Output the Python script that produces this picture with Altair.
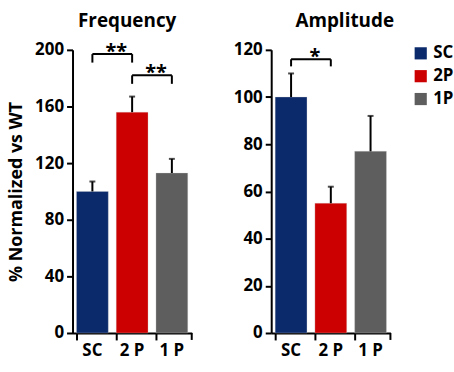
import altair as alt
import pandas as pd

groups = ["SC", "2 P", "1 P"]
legend_labels = ["SC", "2P", "1P"]
colors = ["#0b2a6b", "#cc0000", "#5e5e5e"]

freq_mean = [100, 156, 113]
freq_err = [107, 167, 123]
amp_mean = [100, 55, 77]
amp_err = [110, 62, 92]

# significance brackets
freq_br_start = ["SC", "2 P"]
freq_br_end = ["2 P", "1 P"]
freq_br_top = [197, 182]
freq_br_leg = [191, 176]
freq_br_mid = ["2 P", "1 P"]
freq_br_text = ["**", "**"]

amp_br_start = ["SC"]
amp_br_end = ["2 P"]
amp_br_top = [116]
amp_br_leg = [113]
amp_br_mid = ["2 P"]
amp_br_text = ["*"]

FONT = "Open Sans"
W, H = 120, 285


def panel(mean, err, br_start, br_end, br_top, br_leg, br_mid, br_text,
          title, ymax, ystep, ytitle, title_dx, show_legend):
    df = pd.DataFrame({"g": groups, "lg": legend_labels, "v": mean, "e": err})
    br = pd.DataFrame({"s": br_start, "t": br_end, "top": br_top,
                       "leg": br_leg, "m": br_mid, "txt": br_text})

    xscale = alt.Scale(domain=groups, paddingInner=0.2, paddingOuter=0.1)
    yscale = alt.Scale(domain=[0, ymax], nice=False)

    yaxis = alt.Axis(
        values=list(range(0, ymax + 1, ystep)), grid=False,
        domainColor="black", domainWidth=2, tickColor="black", tickWidth=2,
        tickSize=6, labelFont=FONT, labelFontSize=17, labelFontWeight="bold",
        labelColor="black", labelPadding=3, minExtent=40, maxExtent=40,
        title=ytitle if ytitle else None,
        titleFont=FONT, titleFontSize=18, titleFontWeight="bold",
        titleColor="black", titlePadding=7,
    )
    xaxis = alt.Axis(
        title=None, labelAngle=0, bandPosition=0, domainColor="black",
        domainWidth=2, tickColor="black", tickWidth=2, tickSize=7,
        labelFont=FONT, labelFontSize=17, labelFontWeight="bold",
        labelColor="black", labelPadding=3,
    )

    color = alt.Color(
        "lg:N",
        scale=alt.Scale(domain=legend_labels, range=colors),
        legend=alt.Legend(
            title=None, symbolType="square", symbolSize=150,
            symbolStrokeWidth=0, labelFont=FONT, labelFontSize=17,
            labelFontWeight="bold", labelColor="black", rowPadding=5,
            orient="none", legendX=142, legendY=-5, padding=0,
        ) if show_legend else None,
    )

    base = alt.Chart(df)
    bars = base.mark_bar(stroke="#d0d0d0", strokeWidth=0.6, strokeOpacity=0.5).encode(
        x=alt.X("g:N", scale=xscale, axis=xaxis, sort=groups),
        y=alt.Y("v:Q", scale=yscale, axis=yaxis),
        color=color,
    )
    errs = base.mark_rule(color="black", strokeWidth=2).encode(
        x=alt.X("g:N", sort=groups), y="v:Q", y2="e:Q"
    )
    caps = base.mark_tick(color="black", thickness=2, size=6).encode(
        x=alt.X("g:N", sort=groups), y="e:Q"
    )
    brb = alt.Chart(br)
    bar_top = brb.mark_rule(color="black", strokeWidth=2).encode(
        x=alt.X("s:N", sort=groups), x2="t:N", y="top:Q"
    )
    leg_l = brb.mark_rule(color="black", strokeWidth=2).encode(
        x=alt.X("s:N", sort=groups), y="top:Q", y2="leg:Q"
    )
    leg_r = brb.mark_rule(color="black", strokeWidth=2).encode(
        x=alt.X("t:N", sort=groups), y="top:Q", y2="leg:Q"
    )
    stars = brb.mark_text(font=FONT, fontSize=20, fontWeight="bold",
                          color="black", baseline="alphabetic", dy=4).encode(
        x=alt.X("m:N", sort=groups, bandPosition=0), y="top:Q", text="txt:N"
    )
    endtick = base.mark_rule(color="black", strokeWidth=2).encode(
        x=alt.value(W), y=alt.value(H), y2=alt.value(H + 7)
    ).transform_filter(alt.datum.g == "SC")

    return alt.layer(bars, errs, caps, bar_top, leg_l, leg_r, stars, endtick).properties(
        width=W, height=H,
        title=alt.TitleParams(title, font=FONT, fontSize=19, fontWeight="bold",
                              color="black", frame="group", anchor="middle",
                              dx=title_dx, offset=10),
    )


left = panel(freq_mean, freq_err, freq_br_start, freq_br_end, freq_br_top,
             freq_br_leg, freq_br_mid, freq_br_text, "Frequency", 200, 40,
             "% Normalized vs WT", -5, False)
right = panel(amp_mean, amp_err, amp_br_start, amp_br_end, amp_br_top,
              amp_br_leg, amp_br_mid, amp_br_text, "Amplitude", 120, 20,
              None, 14, True)

chart = alt.hconcat(left, right, spacing=39).resolve_scale(
    color="independent", x="independent", y="independent"
).configure_view(stroke=None).properties(
    padding={"left": 8, "top": 11, "right": 0, "bottom": 0}
)

chart.save("out.html", embed_options={"renderer": "svg", "actions": False})
